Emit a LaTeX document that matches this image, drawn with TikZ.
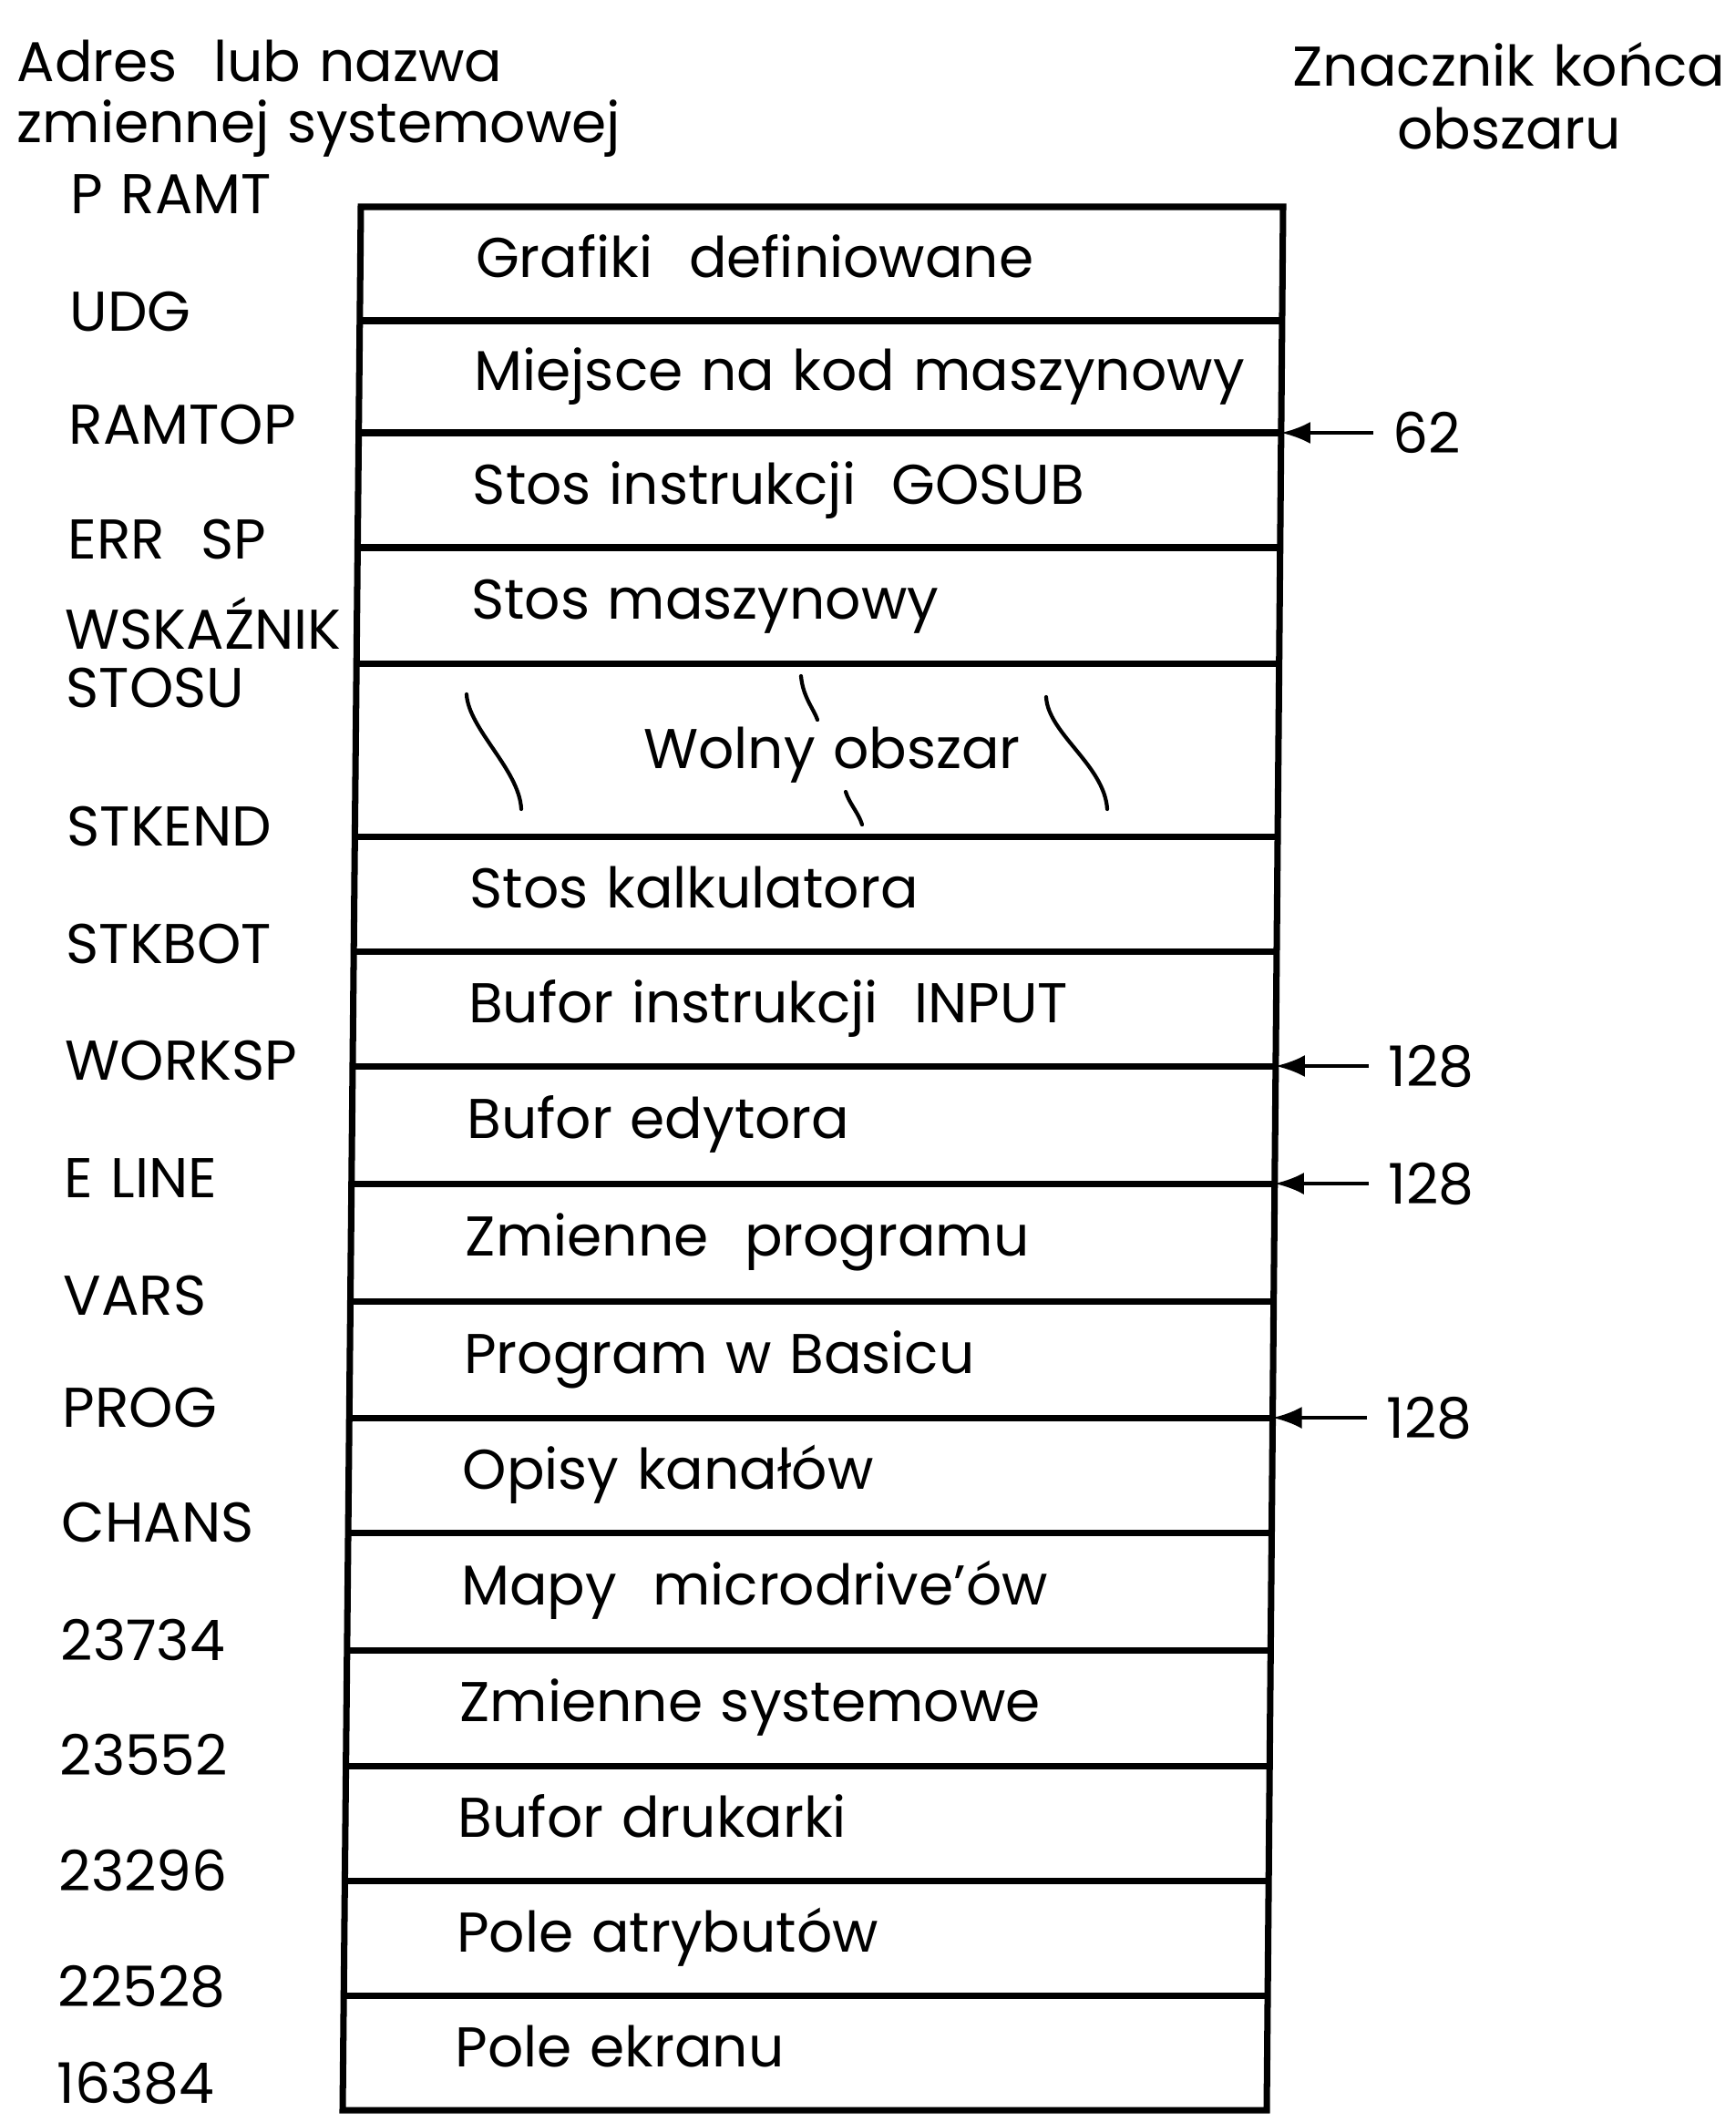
\documentclass[tikz,border=0pt]{standalone}
\usepackage{fontspec}
\setmainfont{Poppins}[WordSpace=1.2]
\usetikzlibrary{arrows.meta}
\newcommand\memfont{\fontsize{17.5}{21}\selectfont}

\begin{document}
\begin{tikzpicture}[x=1cm, y=-1cm, font=\memfont,
    box/.style={line width=2pt},
    txt/.style={anchor=base west, inner sep=0pt},
    endmark/.style={anchor=west, inner ysep=0pt, inner xsep=0.21cm},
    ptr/.style={-{Latex[length=3.2mm,width=2.4mm]}, line width=1.2pt},
    squig/.style={line width=1.2pt, line cap=round}]
  \useasboundingbox (0,0) rectangle (19.05,23.29);

  % Naglowki kolumn
  \node[txt] (hleft1) at (0.18,0.89) {Adres\ \ lub nazwa};
  \node[txt] (hleft2) at (0.18,1.56) {zmiennej systemowej};
  \node[anchor=base, inner sep=0pt] (hright1) at (16.56,0.94) {Znacznik końca};
  \node[anchor=base, inner sep=0pt] (hright2) at (16.56,1.63) {obszaru};

  % Obrys mapy pamieci
  \draw[box] (3.96,2.27) -- (14.08,2.27) -- (13.90,23.16) -- (3.76,23.16) -- cycle;
  \foreach \b in {3.52,4.75,6.01,7.28,9.18,10.44,11.70,12.99,14.28,15.56,16.82,18.11,19.38,20.64,21.90}
    \draw[box] ({3.96-0.0096*(\b-2.27)},\b) -- ({14.08-0.0086*(\b-2.27)},\b);

  % Opisy obszarow
  \foreach \ya/\yb/\t [count=\i] in {2.27/3.52/Grafiki\ \ definiowane,
      3.52/4.75/Miejsce na kod maszynowy, 4.75/6.01/Stos instrukcji\ \ GOSUB,
      6.01/7.28/Stos maszynowy, 9.18/10.44/Stos kalkulatora,
      10.44/11.70/Bufor instrukcji\ \ INPUT, 11.70/12.99/Bufor edytora,
      12.99/14.28/Zmienne\ \ programu, 14.28/15.56/Program w Basicu,
      15.56/16.82/Opisy kanałów, 16.82/18.11/Mapy\ \ microdrive’ów,
      18.11/19.38/Zmienne systemowe, 19.38/20.64/Bufor drukarki,
      20.64/21.90/Pole atrybutów, 21.90/23.16/Pole ekranu}
    \node[txt] (row\i) at ({5.23-0.016*\i},{(\ya+\yb)/2+0.15}) {\t};

  % Wolny obszar
  \node[anchor=base, inner sep=0pt] (free) at (9.13,8.43) {Wolny obszar};
  \draw[squig] (5.12,7.62) .. controls (5.14,8.0) and (5.70,8.45) .. (5.72,8.88);
  \draw[squig] (8.79,7.42) .. controls (8.81,7.65) and (8.93,7.78) .. (8.97,7.90);
  \draw[squig] (9.28,8.69) .. controls (9.32,8.82) and (9.42,8.92) .. (9.46,9.05);
  \draw[squig] (11.48,7.65) .. controls (11.50,8.05) and (12.12,8.40) .. (12.15,8.88);

  % Adresy i nazwy zmiennych
  \foreach \y/\t [count=\i] in {2.12/P RAMT, 3.415/UDG, 4.65/RAMTOP, 5.91/ERR\ \ SP,
      9.06/STKEND, 10.35/STKBOT, 11.63/WORKSP, 12.92/E LINE, 14.21/VARS,
      15.44/PROG, 16.70/CHANS, 18.00/23734, 19.26/23552, 20.53/23296,
      21.80/22528, 22.86/16384}
    \node[txt] (adr\i) at ({0.78-0.01*\i},{\y+0.22}) {\t};
  \node[txt] (wsk1) at (0.71,7.12) {WSKAŹNIK};
  \node[txt] (wsk2) at (0.72,7.76) {STOSU};

  % Znaczniki konca obszaru
  \coordinate (e62) at ({14.08-0.0086*(4.75-2.27)},4.75);
  \coordinate (e128a) at ({14.08-0.0086*(11.70-2.27)},11.70);
  \coordinate (e128b) at ({14.08-0.0086*(12.99-2.27)},12.99);
  \coordinate (e128c) at ({14.08-0.0086*(15.56-2.27)},15.56);
  \node[endmark] (m62) at (15.07,4.75) {62};
  \node[endmark] (m128a) at (15.02,11.70) {128};
  \node[endmark] (m128b) at (15.02,12.99) {128};
  \node[endmark] (m128c) at (15.00,15.56) {128};
  \draw[ptr] (m62.west) -- (e62);
  \draw[ptr] (m128a.west) -- (e128a);
  \draw[ptr] (m128b.west) -- (e128b);
  \draw[ptr] (m128c.west) -- (e128c);
\end{tikzpicture}
\end{document}
